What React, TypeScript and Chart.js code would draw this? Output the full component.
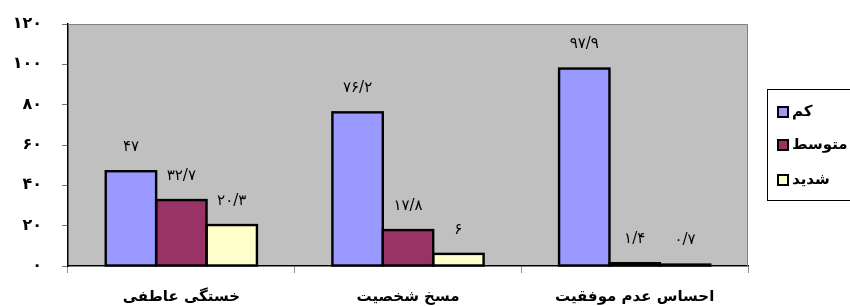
import React, { useEffect, useRef } from "react";
import { Chart, registerables } from "chart.js";

Chart.register(...registerables);

const categories = ["خستگی عاطفی", "مسخ شخصیت", "احساس عدم موفقیت"];
const seriesNames = ["کم", "متوسط", "شدید"];
const lowValues = [47, 76.2, 97.9];
const mediumValues = [32.7, 17.8, 1.4];
const severeValues = [20.3, 6, 0.7];
const seriesColors = ["#9999FF", "#993366", "#FFFFCC"];
const yTicks = [0, 20, 40, 60, 80, 100, 120];

const FONT = "'DejaVu Sans', 'Noto Sans', sans-serif";

function toFa(v: number | string): string {
  const d = "۰۱۲۳۴۵۶۷۸۹";
  return String(v)
    .replace(/[0-9]/g, (c) => d[Number(c)])
    .replace(/\./g, "/");
}

const decorPlugin = {
  id: "decor",
  beforeDraw(chart: any) {
    const { ctx, chartArea: a } = chart;
    ctx.save();
    ctx.fillStyle = "#C0C0C0";
    ctx.fillRect(a.left, a.top, a.right - a.left, a.bottom - a.top);
    ctx.restore();
  },
  afterDatasetsDraw(chart: any) {
    const { ctx } = chart;
    ctx.save();
    ctx.strokeStyle = "#000";
    ctx.lineWidth = 2.4;
    chart.data.datasets.forEach((ds: any, i: number) => {
      const meta = chart.getDatasetMeta(i);
      meta.data.forEach((bar: any) => {
        const p = bar.getProps(["x", "y", "base", "width"], true);
        ctx.strokeRect(p.x - p.width / 2, p.y, p.width, p.base - p.y);
      });
    });
    ctx.font = `15px ${FONT}`;
    ctx.fillStyle = "#000";
    ctx.textAlign = "center";
    ctx.textBaseline = "middle";
    chart.data.datasets.forEach((ds: any, i: number) => {
      const meta = chart.getDatasetMeta(i);
      meta.data.forEach((bar: any, j: number) => {
        ctx.fillText(toFa(ds.data[j]), bar.x, bar.y - 24);
      });
    });
    ctx.restore();
  },
  afterDraw(chart: any) {
    const { ctx, chartArea: a } = chart;
    ctx.save();
    ctx.strokeStyle = "#808080";
    ctx.lineWidth = 1;
    ctx.beginPath();
    ctx.moveTo(a.left, a.top + 0.5);
    ctx.lineTo(a.right - 0.5, a.top + 0.5);
    ctx.lineTo(a.right - 0.5, a.bottom);
    ctx.stroke();

    const lx = 767, ly = 89, lw = 100, lh = 111;
    ctx.strokeStyle = "#000";
    ctx.strokeRect(lx + 0.5, ly + 0.5, lw, lh);
    const rowY = [112, 145, 180];
    ctx.font = `bold 15px ${FONT}`;
    ctx.textAlign = "left";
    ctx.textBaseline = "middle";
    seriesNames.forEach((name, i) => {
      const y = rowY[i];
      ctx.fillStyle = seriesColors[i];
      ctx.fillRect(778, y - 5, 10, 10);
      ctx.strokeStyle = "#000";
      ctx.lineWidth = 2;
      ctx.strokeRect(778, y - 5, 10, 10);
      ctx.fillStyle = "#000";
      ctx.fillText(name, 792, y);
    });
    ctx.restore();
  },
};

export default function App() {
  const ref = useRef<HTMLCanvasElement>(null);
  useEffect(() => {
    if (!ref.current) return;
    const values = [lowValues, mediumValues, severeValues];
    const chart = new Chart(ref.current, {
      type: "bar",
      data: {
        labels: categories,
        datasets: seriesNames.map((n, i) => ({
          label: n,
          data: values[i],
          backgroundColor: seriesColors[i],
          borderWidth: 0,
          barPercentage: 1,
          categoryPercentage: 0.667,
        })),
      },
      options: {
        responsive: false,
        animation: false,
        layout: { padding: { top: 24, right: 102, left: 0, bottom: 0 } },
        plugins: { legend: { display: false }, tooltip: { enabled: false } },
        scales: {
          x: {
            grid: { drawOnChartArea: false, drawTicks: true, tickLength: 7, color: "#909090", offset: true },
            border: { color: "#000", width: 1.5 },
            ticks: { color: "#000", padding: 15, font: { family: FONT, size: 15, weight: "bold" } },
            afterFit(scale: any) {
              scale.height = 40;
              scale.paddingTop = 0;
              scale.paddingBottom = 0;
            },
          },
          y: {
            min: 0,
            max: 120,
            afterBuildTicks(scale: any) { scale.ticks = yTicks.map((v) => ({ value: v })); },
            grid: { drawOnChartArea: false, drawTicks: true, tickLength: 6, color: "#707070" },
            border: { color: "#000", width: 1.5 },
            ticks: {
              color: "#000",
              padding: 20,
              font: { family: FONT, size: 16, weight: "bold" },
              callback: (v: any) => toFa(v),
            },
            afterFit(scale: any) {
              scale.width = 68;
              scale.paddingTop = 0;
              scale.paddingBottom = 0;
            },
          },
        },
      },
      plugins: [decorPlugin],
    });
    return () => chart.destroy();
  }, []);
  return (
    <canvas
      ref={ref}
      width={850}
      height={306}
      style={{ position: "fixed", left: 0, top: 0, display: "block", background: "#fff" }}
    />
  );
}
